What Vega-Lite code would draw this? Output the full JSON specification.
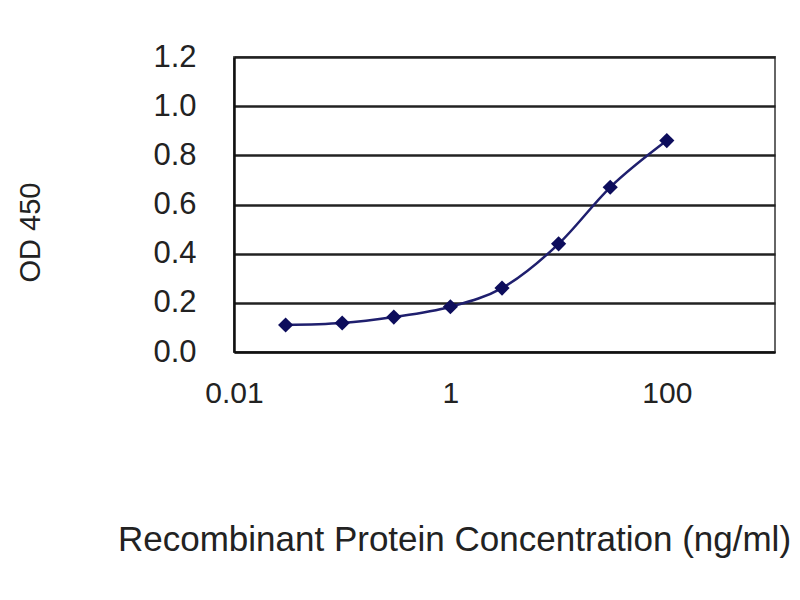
{
  "$schema": "https://vega.github.io/schema/vega-lite/v6.json",
  "autosize": {"type": "none"},
  "width": 541,
  "height": 295,
  "padding": {"left": 234, "top": 57, "right": 25, "bottom": 248},
  "background": "white",
  "config": {
    "view": {"stroke": "#666", "strokeWidth": 2},
    "font": "Liberation Sans"
  },
  "data": {"values": [
    {"conc": 0.03, "od": 0.11},
    {"conc": 0.1, "od": 0.118},
    {"conc": 0.3, "od": 0.142},
    {"conc": 1, "od": 0.184},
    {"conc": 3, "od": 0.26},
    {"conc": 10, "od": 0.44},
    {"conc": 30, "od": 0.67},
    {"conc": 100, "od": 0.86}
  ]},
  "encoding": {
    "x": {
      "field": "conc", "type": "quantitative",
      "scale": {"type": "log", "domain": [0.01, 1000], "nice": false},
      "axis": {
        "values": [0.01, 1, 100],
        "labelExpr": "datum.value == 0.01 ? '0.01' : format(datum.value, 'd')",
        "labelFlush": false,
        "grid": false, "ticks": false,
        "domainColor": "#111", "domainWidth": 2,
        "labelFontSize": 30, "labelColor": "#222", "labelPadding": 26,
        "title": "Recombinant Protein Concentration (ng/ml)",
        "titleFontSize": 35, "titleFontWeight": "normal", "titleColor": "#222",
        "titleX": 220, "titleY": 187, "titleAlign": "center", "titleBaseline": "middle"
      }
    },
    "y": {
      "field": "od", "type": "quantitative",
      "scale": {"domain": [0, 1.2], "nice": false},
      "axis": {
        "values": [0, 0.2, 0.4, 0.6, 0.8, 1.0, 1.2],
        "format": ".1f",
        "grid": true, "gridColor": "#222", "gridWidth": 2.5,
        "ticks": false,
        "domainColor": "#111", "domainWidth": 2.5,
        "labelFontSize": 31, "labelColor": "#222", "labelPadding": 38,
        "title": "OD 450",
        "titleFontSize": 29, "titleFontWeight": "normal", "titleColor": "#222",
        "titleAngle": -90, "titleX": -204, "titleY": 175,
        "titleAlign": "center", "titleBaseline": "middle"
      }
    }
  },
  "layer": [
    {"mark": {"type": "line", "interpolate": "monotone", "color": "#1f1f6e", "strokeWidth": 2.5}},
    {"mark": {"type": "point", "shape": "diamond", "filled": true, "size": 230, "color": "#0d0d5c", "opacity": 1}}
  ]
}
